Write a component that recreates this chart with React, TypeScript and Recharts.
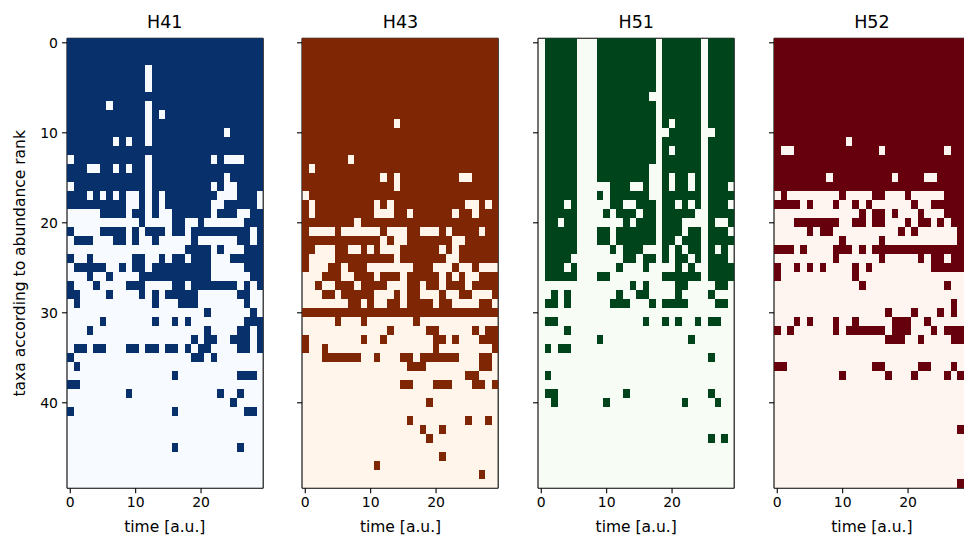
import React from "react";
import { ScatterChart, Scatter, XAxis, YAxis, CartesianGrid } from "recharts";

// presence (#) / absence (.) of each taxon (row = abundance rank) over time (column)
const timeTicks = [0, 10, 20];
const rankTicks = [0, 10, 20, 30, 40];
const panelNames = ["H41", "H43", "H51", "H52"];

const h41Rows = [
  "##############################",
  "##############################",
  "##############################",
  "############.#################",
  "############.#################",
  "############.#################",
  "##############################",
  "######.#####.#################",
  "############.#.###############",
  "############.#################",
  "############.###########.#####",
  "#######.#.##.#################",
  "##############################",
  ".###########.#########.#...###",
  "###..##.#.##.#################",
  "############.###########.#####",
  ".###########.#########.#..####",
  "###.#.#.#..#.#.########...###.",
  "#########..#.#.#######..#####.",
  ".....####.##.#..######.###..##",
  "...........#....##..#......###",
  "#....####.#.###.##.#########.#",
  ".###...##.#..#.....#......##.#",
  "..................####.#...###",
  "#..#......##..#.##.###...#####",
  ".#####..#.##.#########.....###",
  "...#..#....###########......##",
  "#...#....###....##.#######.#.#",
  "##....#....#.#.#####......##..",
  ".#...........#...###.......#..",
  ".....................#......#.",
  ".....#.......#..#.#........###",
  "...#.................#....##.#",
  "...................#.##..###.#",
  ".##.##...##.##.##.#.##....##.#",
  "#..................##.#.......",
  ".#............................",
  "................#.........###.",
  "##............................",
  ".........#.............#..#...",
  ".........................#....",
  "#...............#..........##.",
  "..............................",
  "..............................",
  "..............................",
  "................#.........#...",
  "..............................",
  "..............................",
  "..............................",
  "..............................",
];

const h43Rows = [
  "##############################",
  "##############################",
  "##############################",
  "##############################",
  "##############################",
  "##############################",
  "##############################",
  "##############################",
  "##############################",
  "##############.###############",
  "##############################",
  "##############################",
  "##############################",
  "#######.######################",
  "#.############################",
  "############.#.#########..####",
  "##############.###############",
  ".#############################",
  "#.#########.#.###########..#.#",
  "#.#########...##.######.##.###",
  "########.#####################",
  "#....#......#...##...#.####.##",
  "############.#..#######..#####",
  "##...##..#.#...######.#.######",
  "#....#########.#######..######",
  "#...##.###.......###...#..#...",
  "...###..###.###.#####.#.#..###",
  "..#..###.####...##.##.###.####",
  "...##.#####...#.##...#..##...#",
  ".......##.#..##.####.##....##.",
  "##############################",
  ".....#...#.......#............",
  ".............#.....##.....#.##",
  "#........#..#.......##.#...###",
  "#..#................#........#",
  "...######..#...##.######...##.",
  "................###........##.",
  ".........................##...",
  "...............##...###...##.#",
  "..............................",
  "...................#..........",
  "..............................",
  "................#........#..#.",
  "..................#..#........",
  "...................#..........",
  "..............................",
  ".....................#........",
  "...........#..................",
  "...........................#..",
  "..............................",
];

const h51Rows = [
  ".#####...#########.######.####",
  ".#####...#########.######.####",
  ".#####...#########.######.####",
  ".#####...#########.######.####",
  ".#####...#########.######.####",
  ".#####...#########.######.####",
  ".#####...########..######.####",
  ".#####...#########.######.####",
  ".#####...#########.######.####",
  ".#####...#########.#.####.####",
  ".#####...#########..#####..###",
  ".#####...#########.######.####",
  ".#####...#########.#.####.####",
  ".#####...#########.######.####",
  ".#####...########..######.####",
  ".#####...########..#.##.#.####",
  ".#####.....###..#..#.##.#.###.",
  ".#####...#.######..######.####",
  ".###.#.....##..###.##.#.#.###.",
  ".#####....#.###.##.#####..####",
  ".##.##.......#.###.###....#..#",
  ".#####...##.######.###.##.###.",
  ".#####...##.######.##.###.####",
  ".#####.....#.###...#.#.##.#.#.",
  ".####........##.##.#.##.#.###.",
  ".###.#......#...#....#.#..####",
  ".#####...##........######.####",
  "..............#.#....##....##.",
  "..#.#.......#..##....#....#...",
  ".##.#......###...#.####....##.",
  "..............................",
  ".##.............#..#.#..#.##..",
  "....#.........................",
  ".........#.............#......",
  ".#.##.........................",
  "..........................#...",
  "..............................",
  ".#............................",
  "..............................",
  ".##..........#............#...",
  "..#.......#...........#....#..",
  "..............................",
  "..............................",
  "..............................",
  "..........................#.#.",
  "..............................",
  "..............................",
  "..............................",
  "..............................",
  "..............................",
];

const h52Rows = [
  "##############################",
  "##############################",
  "##############################",
  "##############################",
  "##############################",
  "##############################",
  "##############################",
  "##############################",
  "##############################",
  "##############################",
  "##############################",
  "###########.##################",
  "#..#############.#########.###",
  "##############################",
  "##############################",
  "########.#########.####..#####",
  "##############################",
  ".#........#....##...#.....####",
  "####.#...#..#.#......#..######",
  ".............#.##.#...#...####",
  "...#######..##.##...#.##.#.###",
  ".....#.##..........#.#......##",
  "..........#.....#...........##",
  "###.#....###.#.###############",
  ".........#......#.....#.##.###",
  "#..#.#.#....#.#.........######",
  "#...........#.................",
  ".............#............#...",
  "..............................",
  "...........................#..",
  ".................#...#...#.#..",
  "...#.#...#..#.....###..#......",
  "#.#......#.######.###...#.####",
  ".................###..#....###",
  "..............................",
  "..............................",
  "##.............##.....##...#..",
  "..........#......#...#....#.#.",
  "..............................",
  "..............................",
  "..............................",
  "..............................",
  "..............................",
  "............................#.",
  "..............................",
  "..............................",
  "..............................",
  "..............................",
  "..............................",
  "............................#.",
];

const panelRows = [h41Rows, h43Rows, h51Rows, h52Rows];
const darkColors = ["#08306b", "#7f2704", "#00441b", "#67000d"];
const lightColors = ["#f7fbff", "#fff5eb", "#f7fcf5", "#fff5f0"];

const W = 964;
const H = 537;
const PLOT_LEFT = 66.7;
const PANEL_STEP = 235.7;
const PLOT_TOP = 38.3;
const PLOT_W = 196.2;
const PLOT_H = 450;
const CELL_W = PLOT_W / 30;
const CELL_H = PLOT_H / 50;
const PAD_L = 60;
const PAD_R = 10;
const X_AXIS_H = 30;
const FONT = "'DejaVu Sans', sans-serif";

function toCells(rows: string[]) {
  const out: { t: number; rank: number }[] = [];
  rows.forEach((line, rank) => {
    for (let t = 0; t < line.length; t++) {
      if (line[t] === "#") out.push({ t, rank });
    }
  });
  return out;
}

function Panel({ index }: { index: number }) {
  const cells = toCells(panelRows[index]);
  const dark = darkColors[index];
  const tickStyle = { fontSize: 14, fill: "#000", fontFamily: FONT };
  const line = { stroke: "#000", strokeWidth: 1.1 };
  const blank = () => "";
  return (
    <div style={{ position: "absolute", left: PLOT_LEFT + index * PANEL_STEP - PAD_L, top: 0 }}>
      <ScatterChart
        width={PAD_L + PLOT_W + PAD_R}
        height={H}
        margin={{ top: PLOT_TOP - 1, right: PAD_R - 1, bottom: H - PLOT_TOP - PLOT_H - X_AXIS_H, left: 0 }}
      >
        <CartesianGrid horizontal={false} vertical={false} fill={lightColors[index]} />
        <Scatter
          data={cells}
          isAnimationActive={false}
          shape={(p: any) => (
            <rect
              x={p.cx - CELL_W / 2}
              y={p.cy - CELL_H / 2}
              width={CELL_W + 0.01}
              height={CELL_H + 0.01}
              fill={dark}
              shapeRendering="crispEdges"
            />
          )}
        />
        <XAxis
          dataKey="t"
          type="number"
          domain={[-0.5, 29.5]}
          ticks={timeTicks}
          allowDataOverflow
          height={X_AXIS_H}
          tickSize={5}
          tickMargin={4}
          tick={tickStyle}
          axisLine={line}
          tickLine={line}
        />
        <XAxis
          xAxisId="top"
          orientation="top"
          type="number"
          domain={[-0.5, 29.5]}
          height={1}
          tick={false}
          tickLine={false}
          axisLine={line}
        />
        <YAxis
          dataKey="rank"
          type="number"
          domain={[-0.5, 49.5]}
          reversed
          ticks={rankTicks}
          allowDataOverflow
          width={PAD_L}
          tickSize={5}
          tickMargin={4}
          tick={tickStyle}
          tickFormatter={index === 0 ? undefined : blank}
          axisLine={line}
          tickLine={line}
        />
        <YAxis
          yAxisId="right"
          orientation="right"
          type="number"
          domain={[-0.5, 49.5]}
          width={1}
          tick={false}
          tickLine={false}
          axisLine={line}
        />
      </ScatterChart>
    </div>
  );
}

export default function App() {
  return (
    <div style={{ position: "fixed", left: 0, top: 0, width: W, height: H, overflow: "hidden", background: "#fff" }}>
      {panelNames.map((_, i) => (
        <Panel key={i} index={i} />
      ))}
      <svg width={W} height={H} style={{ position: "absolute", left: 0, top: 0, pointerEvents: "none" }}>
        {panelNames.map((name, i) => {
          const cx = PLOT_LEFT + i * PANEL_STEP + PLOT_W / 2;
          return (
            <g key={name} fontFamily={FONT} fill="#000">
              <text x={cx} y={28} textAnchor="middle" fontSize={17.5}>
                {name}
              </text>
              <text x={cx} y={532} textAnchor="middle" fontSize={15.5}>
                time [a.u.]
              </text>
            </g>
          );
        })}
        <text
          x={25}
          y={PLOT_TOP + PLOT_H / 2}
          transform={`rotate(-90 25 ${PLOT_TOP + PLOT_H / 2})`}
          textAnchor="middle"
          fontFamily={FONT}
          fontSize={15.5}
          fill="#000"
        >
          taxa according to abundance rank
        </text>
      </svg>
    </div>
  );
}
